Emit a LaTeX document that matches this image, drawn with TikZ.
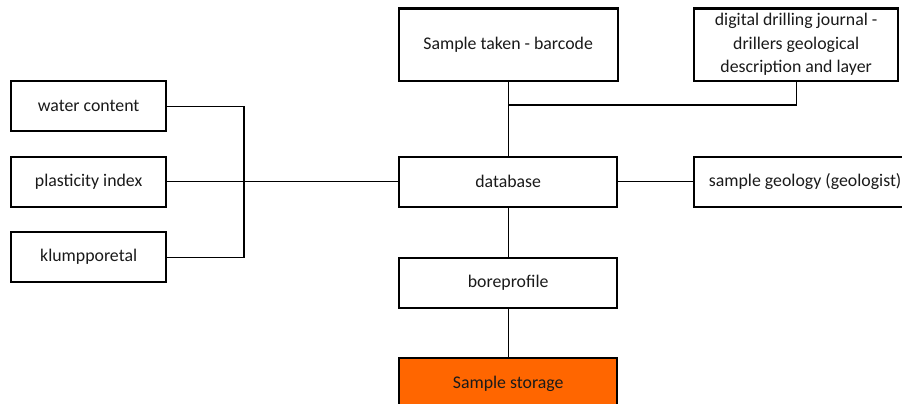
\documentclass[tikz,border=0pt]{standalone}
\usepackage{fontspec}
\setmainfont{Carlito}
\definecolor{storage}{HTML}{FF6600}
\definecolor{txt}{HTML}{1A1A1A}
\begin{document}
\begin{tikzpicture}[x=1pt,y=-1pt,
  box/.style={draw=black,line width=2.3pt,fill=white,inner sep=0pt,anchor=north west,font=\fontsize{17.8}{23.5}\selectfont,text=txt,align=center},
  conn/.style={line width=1.3pt}]
\useasboundingbox (0,0) rectangle (902,404);
\clip (0,0) rectangle (902,404);
\fill[white] (0,0) rectangle (902,404);
% nodes
\node[box,minimum width=155pt,minimum height=50pt] (wc) at (10,80) {water content};
\node[box,minimum width=155pt,minimum height=50pt] (pi) at (10,155.5) {plasticity index};
\node[box,minimum width=155pt,minimum height=50pt] (kl) at (10,231) {klumpporetal};
\node[box,minimum width=219pt,minimum height=72pt] (st) at (397.5,7.5) {Sample taken - barcode};
\node[box,minimum width=204pt,minimum height=72pt] (dj) at (693,7.5) {digital drilling journal -\\drillers geological\\description and layer};
\node[box,minimum width=218pt,minimum height=50pt] (db) at (398,155.5) {database};
\node[box,minimum width=222pt,minimum height=50pt,align=left,inner xsep=5pt] (sg) at (693,155.5) {sample geology (geologist)\hfill};
\node[box,minimum width=218pt,minimum height=50pt] (bp) at (398,256.5) {boreprofile};
\node[box,minimum width=218pt,minimum height=52pt,fill=storage] (ss) at (398,357) {Sample storage};
% connectors
\coordinate (bus) at (244,181);
\coordinate (j) at (db.north |- 0,105);
\draw[conn] (wc.east) -| (bus |- kl.east) -- (kl.east);
\draw[conn] (pi.east) -- (db.west);
\draw[conn] (st.south) -- (st.south |- db.north);
\draw[conn] (j) -| (dj.south);
\draw[conn] (db.east) -- (sg.west);
\draw[conn] (db.south) -- (bp.north);
\draw[conn] (bp.south) -- (ss.north);
\end{tikzpicture}
\end{document}
